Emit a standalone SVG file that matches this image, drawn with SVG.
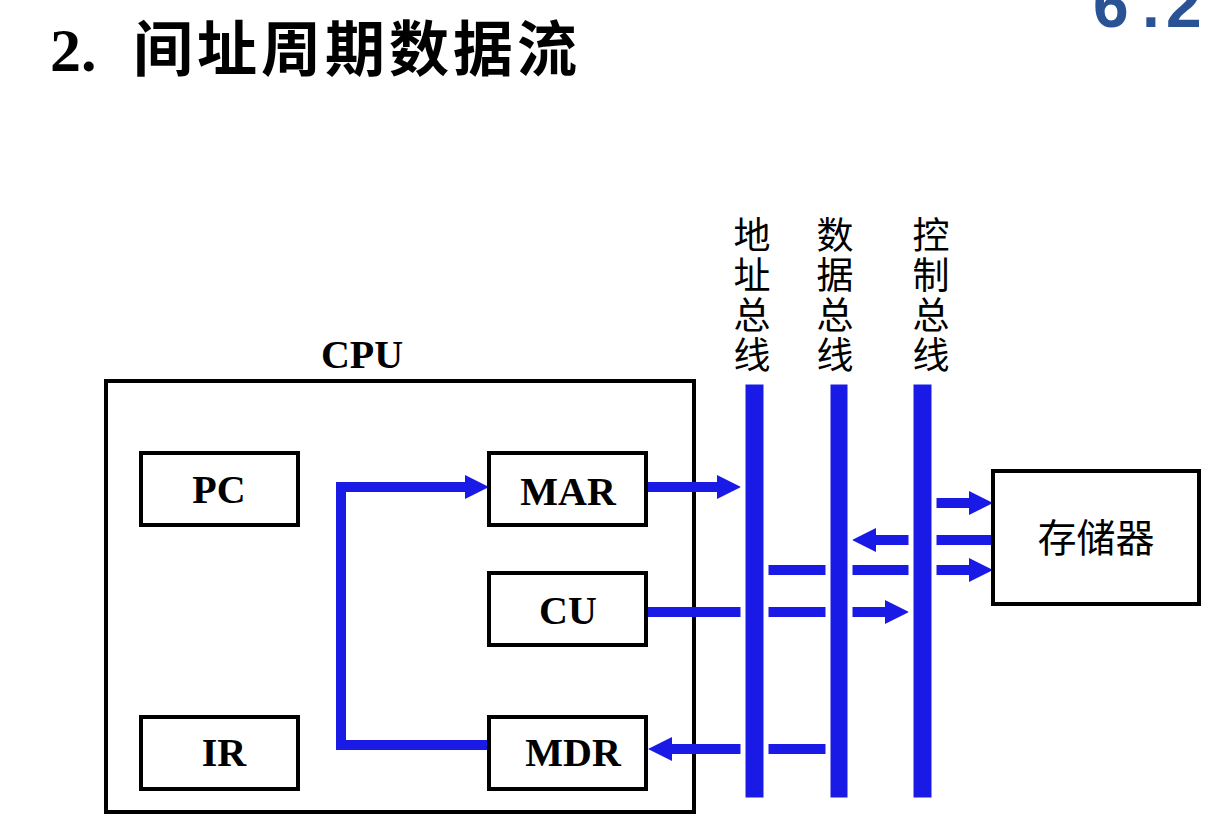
<svg xmlns="http://www.w3.org/2000/svg" width="1208" height="835" viewBox="0 0 1208 835">
<style>
.box{fill:#fff;stroke:#000;stroke-width:4}
.reg{font-family:"Liberation Serif","Times New Roman",serif;font-weight:bold;font-size:40px;text-anchor:middle;fill:#000}
.cjk{font-family:"Noto Sans CJK SC","Noto Sans",sans-serif;fill:#000}
.lbl{font-family:"Noto Sans CJK SC","Noto Sans",sans-serif;fill:#000;font-size:37px;writing-mode:vertical-rl;letter-spacing:3px}
.wire{fill:none;stroke:#1a1ae6;stroke-width:10}
.head{fill:#1a1ae6}
.bus{fill:#1a1ae6;stroke:#fff;stroke-width:5}
</style>
<rect width="1208" height="835" fill="#fff"/>
<g id="title">
<text x="50" y="71" font-family="Liberation Serif,serif" font-weight="bold" font-size="62">2.</text>
<text x="133" y="71" class="cjk" font-weight="bold" font-size="60" letter-spacing="4">间址周期数据流</text>
</g>
<g id="page-number">
<text y="27" font-family="Liberation Sans,Arial,sans-serif" font-weight="bold" font-size="64" fill="#2a5396"><tspan x="1093">6</tspan><tspan x="1142">.</tspan><tspan x="1166">2</tspan></text>
</g>
<g id="cpu">
<rect class="box" x="106" y="381" width="588" height="431"/>
<text class="reg" x="362" y="368" font-size="38">CPU</text>
</g>
<g id="connectors">
<polyline class="wire" points="489,745 341,745 341,487 467,487"/>
<polygon class="head" points="465,475 489,487 465,499"/>
<line class="wire" x1="646" y1="487" x2="719" y2="487"/>
<polygon class="head" points="717,475 741,487 717,499"/>
<line class="wire" x1="646" y1="612" x2="887" y2="612"/>
<polygon class="head" points="885,600 909,612 885,624"/>
<line class="wire" x1="828" y1="749" x2="670" y2="749"/>
<polygon class="head" points="672,737 648,749 672,761"/>
<line class="wire" x1="934" y1="503" x2="971" y2="503"/>
<polygon class="head" points="969,491 993,503 969,515"/>
<line class="wire" x1="993" y1="540" x2="874" y2="540"/>
<polygon class="head" points="876,528 852,540 876,552"/>
<line class="wire" x1="766" y1="570" x2="971" y2="570"/>
<polygon class="head" points="969,558 993,570 969,582"/>
</g>
<g id="address-bus">
<rect class="bus" x="743" y="382" width="23" height="418"/>
<text class="lbl" x="752" y="216">地址总线</text>
</g>
<g id="data-bus">
<rect class="bus" x="828" y="382" width="22" height="418"/>
<text class="lbl" x="835" y="216">数据总线</text>
</g>
<g id="control-bus">
<rect class="bus" x="911" y="382" width="23" height="418"/>
<text class="lbl" x="931" y="216">控制总线</text>
</g>
<g id="pc">
<rect class="box" x="141" y="453" width="157" height="72"/>
<text class="reg" x="219" y="503">PC</text>
</g>
<g id="ir">
<rect class="box" x="141" y="717" width="157" height="72"/>
<text class="reg" x="224" y="766">IR</text>
</g>
<g id="mar">
<rect class="box" x="489" y="453" width="157" height="72"/>
<text class="reg" x="568" y="505">MAR</text>
</g>
<g id="cu">
<rect class="box" x="489" y="573" width="157" height="72"/>
<text class="reg" x="568" y="624">CU</text>
</g>
<g id="mdr">
<rect class="box" x="489" y="717" width="157" height="72"/>
<text class="reg" x="573" y="766">MDR</text>
</g>
<g id="memory">
<rect class="box" x="993" y="471" width="206" height="133"/>
<text class="cjk" x="1096" y="552" font-size="39" text-anchor="middle">存储器</text>
</g>
</svg>
